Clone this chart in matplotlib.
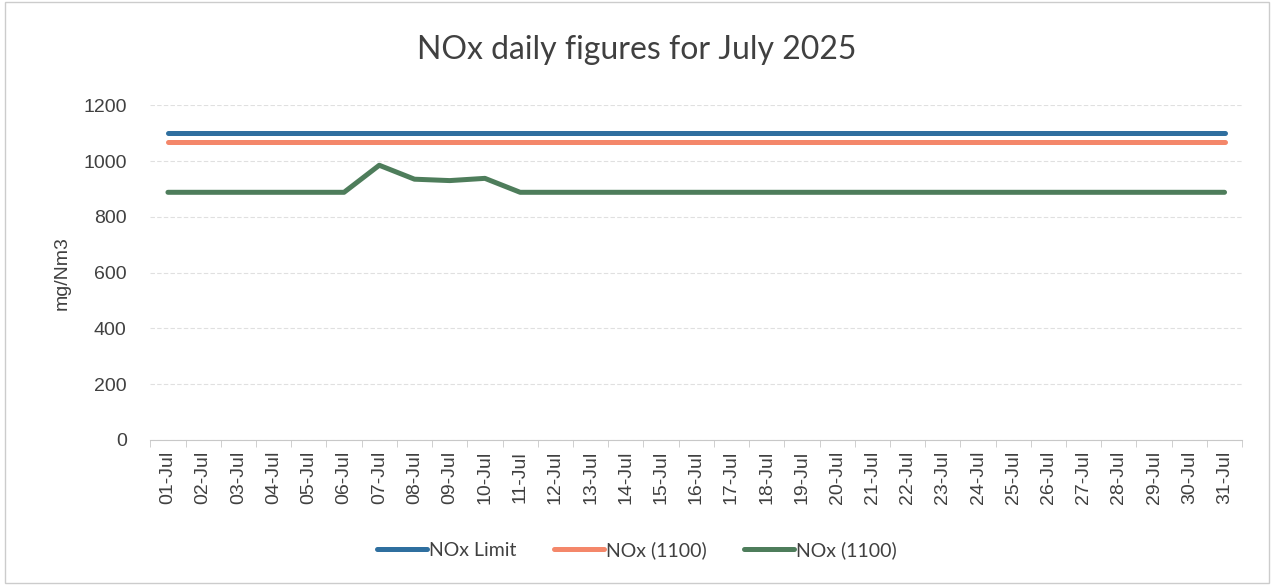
import numpy as np
from matplotlib import pyplot as plt

days = [f"{d:02d}-Jul" for d in range(1, 32)]
nox_limit = [1100] * 31
nox_1100_a = [1070] * 31
nox_1100_b = [888, 888, 888, 888, 888, 888, 985, 935, 930, 938, 888,
              888, 888, 888, 888, 888, 888, 888, 888, 888, 888, 888,
              888, 888, 888, 888, 888, 888, 888, 888, 888]
y_ticks = [0, 200, 400, 600, 800, 1000, 1200]

fig = plt.figure(figsize=(12.74, 5.85), dpi=100)
ax = fig.add_axes([0.118, 0.248, 0.857, 0.572])
x = np.arange(len(days))

ax.plot(x, nox_limit, color="#2F6F9F", lw=3.6, solid_capstyle="round", label="NOx Limit")
ax.plot(x, nox_1100_a, color="#F4876A", lw=3.6, solid_capstyle="round", label="NOx (1100)")
ax.plot(x, nox_1100_b, color="#4E7D5B", lw=3.6, solid_capstyle="round", label="NOx (1100)")

ax.set_xlim(-0.5, len(days) - 0.5)
ax.set_ylim(0, 1200)
ax.set_yticks(y_ticks)
ax.set_yticklabels([str(v) for v in y_ticks], fontsize=14, color="#404040", family="Liberation Sans")
ax.set_xticks(x)
ax.set_xticklabels(days, rotation=90, fontsize=14, color="#404040", family="Liberation Sans")
ax.set_xticks(np.arange(-0.5, len(days)), minor=True)
ax.tick_params(axis="x", which="major", length=0, pad=8)
ax.tick_params(axis="x", which="minor", length=5, color="#c8c8c8")
ax.tick_params(axis="y", length=0, pad=17)
ax.grid(True, axis="y", color="#e0e0e0", ls=(0, (4, 2)), lw=0.8)
ax.set_axisbelow(True)
for s in ["top", "right", "left"]:
    ax.spines[s].set_visible(False)
ax.spines["bottom"].set_color("#c8c8c8")
ax.set_ylabel("mg/Nm3", fontsize=14, color="#404040", family="Liberation Sans", labelpad=9)

fig.text(0.5, 0.899, "NOx daily figures for July 2025", ha="center", va="baseline",
         fontsize=23, color="#404040", family="Lato")
fig.legend(loc="center", bbox_to_anchor=(0.5, 0.06), ncol=3, frameon=False,
           prop={"family": "Lato", "size": 14}, handlelength=2.6, columnspacing=1.9,
           handletextpad=0.1, labelcolor="#404040")
fig.patches.append(plt.Rectangle((0.004, 0.004), 0.992, 0.992, transform=fig.transFigure,
                                 fill=False, edgecolor="#cccccc", lw=1))
fig.savefig("out.png")
